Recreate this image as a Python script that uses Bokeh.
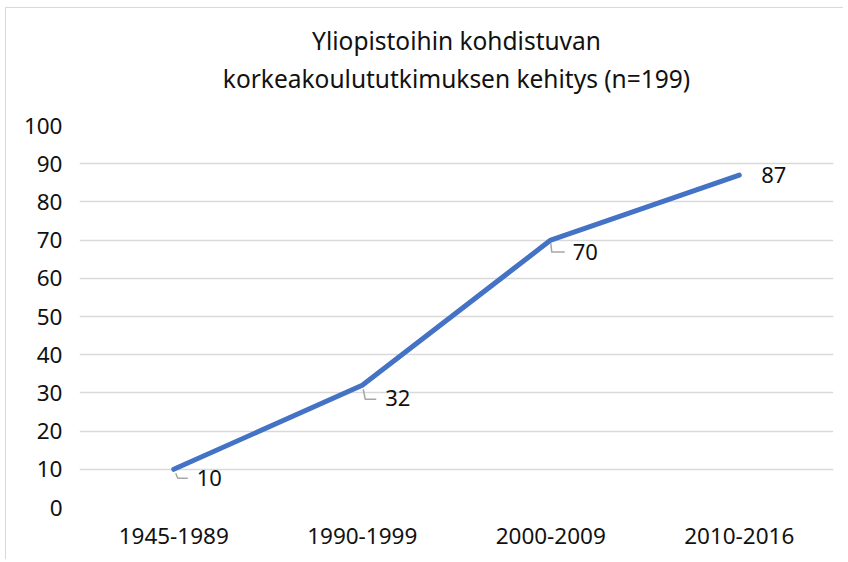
from bokeh.plotting import figure
from bokeh.models import Range1d, FixedTicker, Title, ColumnDataSource
from bokeh.core.properties import value
from bokeh.embed import file_html
from bokeh.resources import INLINE

# ---- data ----
categories = ["1945-1989", "1990-1999", "2000-2009", "2010-2016"]
values = [10, 32, 70, 87]
y_ticks = [0, 10, 20, 30, 40, 50, 60, 70, 80, 90, 100]
title_line1 = "Yliopistoihin kohdistuvan"
title_line2 = "korkeakoulututkimuksen kehitys (n=199)"

# ---- style ----
FONT = "Noto Sans"
W, H = 838, 552
ML, MR, MT, MB = 73, 11, 117, 53
frame_w = W - ML - MR
frame_h = H - MT - MB
xs_idx = list(range(len(categories)))
x_lo, x_hi = -0.5, len(categories) - 0.5
y_lo, y_hi = 0, 100
px_x = (x_hi - x_lo) / frame_w
px_y = (y_hi - y_lo) / frame_h

p = figure(width=W, height=H, output_backend="svg", toolbar_location=None,
           x_range=Range1d(x_lo, x_hi), y_range=Range1d(y_lo, y_hi),
           min_border_left=ML, min_border_right=MR, min_border_top=MT,
           min_border_bottom=MB)
p.title.visible = False
p.outline_line_color = None
p.background_fill_color = "white"
p.border_fill_color = "white"
p.styles = {"margin-left": "5px", "margin-top": "7px",
            "border-top": "1px solid #d9d9d9", "border-left": "1px solid #d9d9d9"}

t2 = Title(text=title_line2, align="center", text_font=FONT,
           text_font_size="24.5px", text_font_style="normal", text_color="#111111",
           standoff=62, offset=8)
t1 = Title(text=title_line1, align="center", text_font=FONT,
           text_font_size="24.5px", text_font_style="normal", text_color="#111111",
           standoff=-56, offset=-8)
p.add_layout(t2, "above")
p.add_layout(t1, "above")

# axes
p.xaxis.ticker = FixedTicker(ticks=xs_idx)
p.xaxis.major_label_overrides = {i: c for i, c in enumerate(categories)}
p.yaxis.ticker = FixedTicker(ticks=y_ticks)
for ax in (p.xaxis[0], p.yaxis[0]):
    ax.axis_line_color = None
    ax.major_tick_line_color = None
    ax.minor_tick_line_color = None
    ax.major_label_text_font = FONT
    ax.major_label_text_font_size = "22.5px"
    ax.major_label_text_color = "#111111"
p.yaxis.major_label_standoff = 11
p.xaxis.major_label_standoff = 14

p.xgrid.grid_line_color = None
p.ygrid.ticker = FixedTicker(ticks=y_ticks)
p.ygrid.grid_line_color = "#d9d9d9"
p.ygrid.grid_line_width = 1.5

# line
p.line(xs_idx, values, line_color="#4472C4", line_width=5,
       line_cap="round", line_join="round")

# data labels (pixel offsets are styling)
lab_dx = [23, 23, 22, 22]
lab_dy = [9, 13, 12, 0]
src = ColumnDataSource(dict(x=xs_idx, y=values, t=[str(v) for v in values],
                            dx=lab_dx, dy=lab_dy))
p.text(x="x", y="y", text="t", x_offset="dx", y_offset="dy", source=src,
       text_font=value(FONT), text_font_size="22px", text_color="#111111",
       text_align="left", text_baseline="middle")

# leader lines for first three labels
leader_px = [
    [(2, 4), (4, 9), (14, 9)],
    [(1, 4), (3, 14), (14, 14)],
    [(0, 3), (1, 12), (14, 12)],
]
lxs, lys = [], []
for i, pts in enumerate(leader_px):
    lxs.append([xs_idx[i] + a * px_x for a, b in pts])
    lys.append([values[i] - b * px_y for a, b in pts])
p.multi_line(lxs, lys, line_color="#a6a6a6", line_width=1.5)

open("out.html", "w").write(file_html(p, INLINE))
